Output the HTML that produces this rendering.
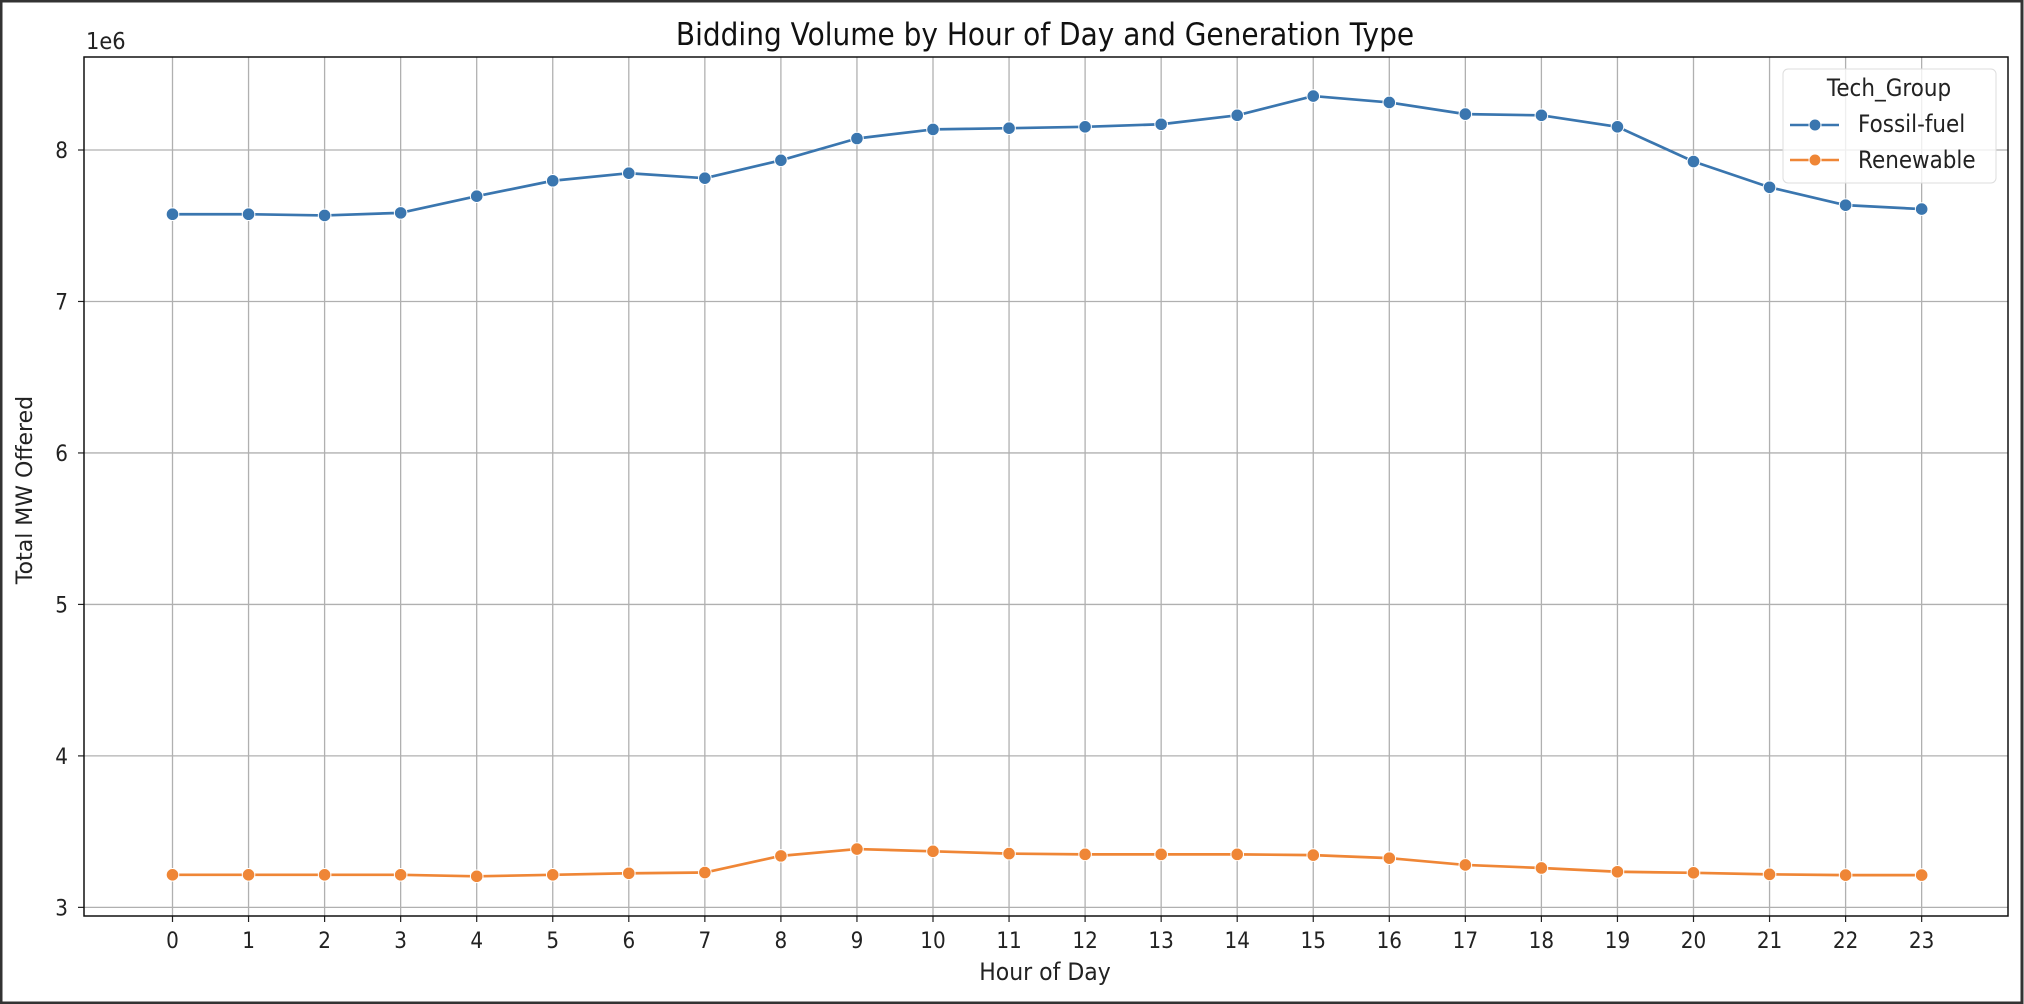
<!DOCTYPE html>
<html><head><meta charset="utf-8"><style>
html,body{margin:0;padding:0;background:#fff;}
svg{display:block;font-family:"DejaVu Sans","Liberation Sans",sans-serif;}
</style></head><body>
<svg id="chart" width="2024" height="1004" viewBox="0 0 2024 1004" xmlns="http://www.w3.org/2000/svg">
<rect x="1" y="1" width="2021" height="1002" fill="#fff" stroke="#333" stroke-width="3"/>
<text transform="translate(1045,45) scale(1,1.1)" text-anchor="middle" font-size="28" fill="#111">Bidding Volume by Hour of Day and Generation Type</text>
<text transform="translate(86,49) scale(1,1.1)" font-size="21" fill="#222">1e6</text>
<g id="grid"></g>
<g id="axes"></g>
<g id="series"></g>
<text transform="translate(1045,980) scale(1,1.1)" text-anchor="middle" font-size="22" fill="#222">Hour of Day</text>
<text transform="translate(32,490) rotate(-90)" text-anchor="middle" font-size="22" fill="#222">Total MW Offered</text>
<g>
<rect x="1783" y="69" width="213" height="114" rx="5" fill="#fff" fill-opacity="0.8" stroke="#ddd"/>
<text transform="translate(1889,96) scale(1,1.1)" text-anchor="middle" font-size="21.5" fill="#222">Tech_Group</text>
<g>
<line x1="1790" y1="125" x2="1839" y2="125" stroke="#3a76af" stroke-width="2.5"/>
<circle cx="1815" cy="125" r="6" fill="#3a76af" stroke="#fff" stroke-width="1"/>
<text transform="translate(1858,132) scale(1,1.1)" font-size="21.5" fill="#222">Fossil-fuel</text></g>
<g>
<line x1="1790" y1="160" x2="1839" y2="160" stroke="#ef8636" stroke-width="2.5"/>
<circle cx="1815" cy="160" r="6" fill="#ef8636" stroke="#fff" stroke-width="1"/>
<text transform="translate(1858,168) scale(1,1.1)" font-size="21.5" fill="#222">Renewable</text></g>
</g>
</svg>
<script>
const hours=[0,1,2,3,4,5,6,7,8,9,10,11,12,13,14,15,16,17,18,19,20,21,22,23];
const fossilValues=[7.576,7.576,7.568,7.585,7.695,7.797,7.847,7.814,7.932,8.076,8.136,8.144,8.153,8.17,8.229,8.356,8.314,8.237,8.229,8.153,7.924,7.754,7.636,7.61];
const renewableValues=[3.215,3.215,3.215,3.215,3.205,3.215,3.225,3.23,3.34,3.385,3.37,3.355,3.35,3.35,3.35,3.345,3.325,3.28,3.26,3.235,3.228,3.218,3.213,3.213];
const yTicks=[3,4,5,6,7,8];
const L=84,R=2008,T=57,B=916;
const yMin=2.943,yMax=8.614;
function xs(h){return 172.5+(h-0)*76.05;}
function ys(v){return B-(v-yMin)/(yMax-yMin)*(B-T);}
const NS="http://www.w3.org/2000/svg";
function mk(tag,attrs,parent){const e=document.createElementNS(NS,tag);for(const k in attrs)e.setAttribute(k,attrs[k]);parent.appendChild(e);return e;}
const grid=document.getElementById('grid'),axes=document.getElementById('axes'),ser=document.getElementById('series');
hours.forEach(h=>{
 const x=xs(h);
 const g=mk('line',{x1:x,y1:T,x2:x,y2:B,stroke:'#b0b0b0','stroke-width':1.3},grid);
 
 
 mk('line',{x1:x,y1:B,x2:x,y2:B+6,stroke:'#222','stroke-width':1.2},axes);
 const t=mk('text',{transform:'translate('+x+',948) scale(1,1.1)','text-anchor':'middle','font-size':20,fill:'#222'},axes);
 t.textContent=h;
 
 
});
yTicks.forEach(v=>{
 const y=ys(v);
 const g=mk('line',{x1:L,y1:y,x2:R,y2:y,stroke:'#b0b0b0','stroke-width':1.3},grid);
 
 
 mk('line',{x1:L-6,y1:y,x2:L,y2:y,stroke:'#222','stroke-width':1.2},axes);
 const t=mk('text',{transform:'translate('+(L-16)+','+(y+8)+') scale(1,1.1)','text-anchor':'end','font-size':20,fill:'#222'},axes);
 t.textContent=v;
 
 
});
const fr=mk('rect',{x:L,y:T,width:R-L,height:B-T,fill:'none',stroke:'#111','stroke-width':1.5},axes);


function drawSeries(vals,color,name){
 const p=mk('polyline',{points:vals.map((v,i)=>xs(hours[i])+','+ys(v)).join(' '),fill:'none',stroke:color,'stroke-width':2.7,'stroke-linejoin':'round'},ser);
 
 
 vals.forEach((v,i)=>{
  const c=mk('circle',{cx:xs(hours[i]),cy:ys(v),r:6.3,fill:color,stroke:'#fff','stroke-width':1},ser);
  
  
 });
}
drawSeries(fossilValues,'#3a76af','fossil');
drawSeries(renewableValues,'#ef8636','renewable');
</script>
</body></html>
